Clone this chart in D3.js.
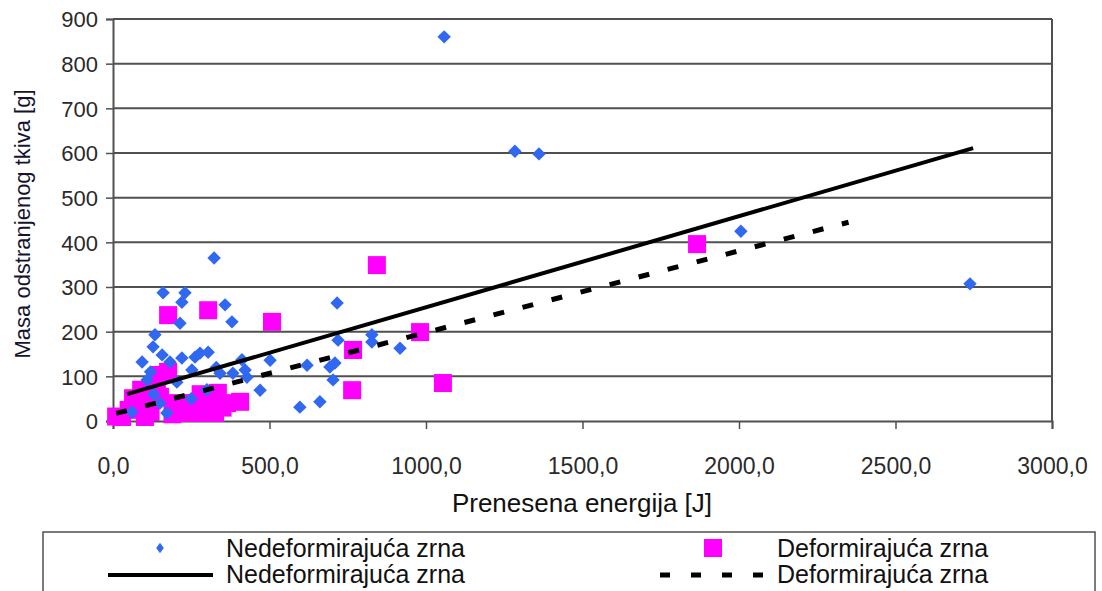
<!DOCTYPE html>
<html>
<head>
<meta charset="utf-8">
<script src="https://cdn.jsdelivr.net/npm/d3@7"></script>
<style>
  body { margin: 0; background: #fff; }
  text { font-family: "Liberation Sans", Arial, sans-serif; }
</style>
</head>
<body>
<div id="chart"></div>
<script>
// data
var blueX = [1058, 1284, 1361, 2006, 2738, 323, 160, 230, 220, 358, 380, 214,
  134, 128, 157, 93, 220, 182, 262, 278, 304, 252, 109, 204, 342, 383, 412, 422,
  428, 470, 502, 172, 597, 661, 620, 693, 709, 703, 716, 719, 827, 827, 917,
  60, 130, 250, 300, 150, 330, 120];
var blueY = [860, 604, 598, 425, 307, 365, 287, 287, 266, 260, 222, 219,
  193, 166, 148, 132, 141, 132, 143, 152, 154, 114, 92, 87, 107, 107, 137, 114,
  98, 69, 136, 18, 31, 43, 125, 121, 130, 92, 264, 181, 193, 177, 163,
  20, 60, 50, 70, 40, 120, 110];

var pinkX = [176, 304, 508, 843, 1866, 767, 981, 1054, 764, 150, 176, 64, 96,
  29, 102, 150, 204, 236, 278, 326, 335, 364, 406, 10, 50, 120, 190, 260, 300,
  140, 90, 220, 280, 350];
var pinkY = [237, 248, 222, 349, 396, 159, 199, 85, 69, 103, 110, 51, 40,
  9, 9, 54, 40, 18, 18, 18, 63, 40, 43, 10, 25, 20, 15, 40, 30,
  75, 70, 25, 60, 30];

// trend line ends
var trendSolidX = [45, 2748];
var trendSolidY = [60, 611];
var trendDashX = [10, 2350];
var trendDashY = [17, 445];

var xTicks = [0, 500, 1000, 1500, 2000, 2500, 3000];
var yTicks = [0, 100, 200, 300, 400, 500, 600, 700, 800, 900];

var svgWidth = 1102, svgHeight = 591;

var svg = d3.select("#chart").append("svg")
  .attr("width", svgWidth)
  .attr("height", svgHeight);

var x = d3.scaleLinear().domain([0, 3000]).range([113, 1052]);
var y = d3.scaleLinear().domain([0, 900]).range([421, 19]);

var fmt = function(d) { return d3.format(".1f")(d).replace(".", ","); };

// gridlines
svg.append("g")
  .selectAll("line")
  .data(yTicks.slice(1))
  .enter().append("line")
  .attr("x1", x(0)).attr("x2", x(3000))
  .attr("y1", d => y(d)).attr("y2", d => y(d))
  .attr("stroke", "#505050")
  .attr("stroke-width", 2);

// right border
svg.append("line")
  .attr("x1", x(3000)).attr("x2", x(3000))
  .attr("y1", y(900)).attr("y2", y(0))
  .attr("stroke", "#505050").attr("stroke-width", 2);

// axes
var xAxis = svg.append("g")
  .attr("transform", `translate(0, ${y(0)})`)
  .call(d3.axisBottom(x).tickValues(xTicks).tickFormat(fmt).tickSize(8).tickPadding(29));
var yAxis = svg.append("g")
  .attr("transform", `translate(${x(0)}, 0)`)
  .call(d3.axisLeft(y).tickValues(yTicks).tickSize(7).tickPadding(8));

[xAxis, yAxis].forEach(function(a) {
  a.select(".domain").attr("stroke", "#505050").attr("stroke-width", 2);
  a.selectAll(".tick line").attr("stroke", "#505050").attr("stroke-width", 1.5);
  a.selectAll("text")
    .attr("fill", "#2a2a2a")
    .style("font-size", "23px");
});
yAxis.selectAll("text").style("font-size", "22px").attr("dy", "0.36em");

var lineGen = d3.line().x(d => x(d[0])).y(d => y(d[1]));

// pink squares
svg.append("g")
  .selectAll("rect")
  .data(d3.zip(pinkX, pinkY))
  .enter().append("rect")
  .attr("x", d => x(d[0]) - 9)
  .attr("y", d => y(d[1]) - 9)
  .attr("width", 18).attr("height", 18)
  .attr("fill", "#ff00ff");

// blue diamonds
var diamond = d3.symbol().type(d3.symbolSquare).size(90);
svg.append("g")
  .selectAll("path")
  .data(d3.zip(blueX, blueY))
  .enter().append("path")
  .attr("d", diamond)
  .attr("transform", d => `translate(${x(d[0])}, ${y(d[1])}) rotate(45)`)
  .attr("fill", "#3068f2");

// trend lines
svg.append("path")
  .datum(d3.zip(trendSolidX, trendSolidY))
  .attr("d", lineGen)
  .attr("fill", "none")
  .attr("stroke", "#000")
  .attr("stroke-width", 4);

svg.append("path")
  .datum(d3.zip(trendDashX, trendDashY))
  .attr("d", lineGen)
  .attr("fill", "none")
  .attr("stroke", "#000")
  .attr("stroke-width", 5)
  .attr("stroke-dasharray", "11,19");

// axis titles
svg.append("text")
  .attr("x", 582).attr("y", 512)
  .attr("text-anchor", "middle")
  .style("font-size", "26px")
  .attr("fill", "#111")
  .text("Prenesena energija [J]");

svg.append("text")
  .attr("transform", "translate(30, 224) rotate(-90)")
  .attr("text-anchor", "middle")
  .style("font-size", "22px")
  .attr("fill", "#141430")
  .text("Masa odstranjenog tkiva [g]");

// legend
var legend = svg.append("g");
legend.append("rect")
  .attr("x", 43).attr("y", 532)
  .attr("width", 1052).attr("height", 70)
  .attr("fill", "#fff")
  .attr("stroke", "#505050")
  .attr("stroke-width", 1.5);

legend.append("path")
  .attr("d", d3.symbol().type(d3.symbolSquare).size(45))
  .attr("transform", "translate(160, 548) scale(0.8, 1.1) rotate(45)")
  .attr("fill", "#3068f2");
legend.append("rect")
  .attr("x", 704).attr("y", 539).attr("width", 18).attr("height", 18)
  .attr("fill", "#ff00ff");
legend.append("line")
  .attr("x1", 108).attr("x2", 213).attr("y1", 575).attr("y2", 575)
  .attr("stroke", "#000").attr("stroke-width", 4);
legend.append("line")
  .attr("x1", 660).attr("x2", 768).attr("y1", 575).attr("y2", 575)
  .attr("stroke", "#000").attr("stroke-width", 5)
  .attr("stroke-dasharray", "10,21");

var legendLabels = [
  {x: 226, y: 557, t: "Nedeformirajuća zrna"},
  {x: 777, y: 557, t: "Deformirajuća zrna"},
  {x: 226, y: 583, t: "Nedeformirajuća zrna"},
  {x: 777, y: 583, t: "Deformirajuća zrna"}
];
legend.selectAll("text.lbl")
  .data(legendLabels)
  .enter().append("text")
  .attr("class", "lbl")
  .attr("x", d => d.x).attr("y", d => d.y)
  .style("font-size", "25px")
  .attr("fill", "#111")
  .text(d => d.t);
</script>
</body>
</html>
